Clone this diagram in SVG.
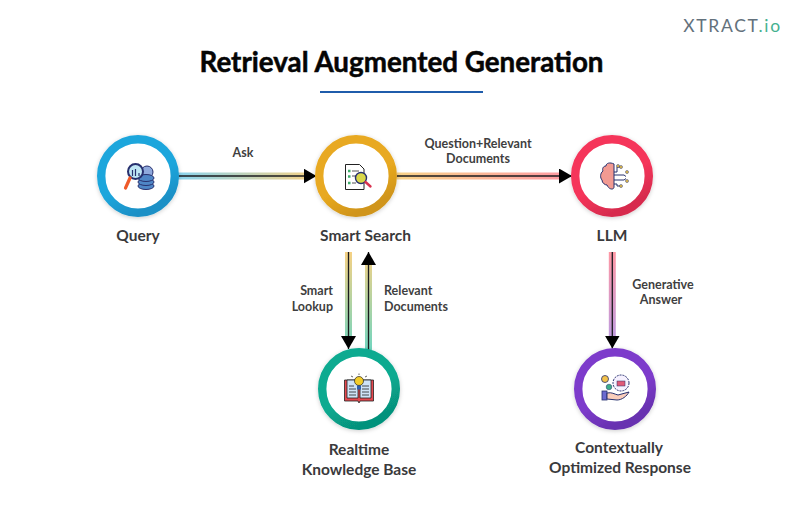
<svg xmlns="http://www.w3.org/2000/svg" width="803" height="505" viewBox="0 0 803 505">
<style>
text{font-family:"Lato","Noto Sans","Liberation Sans",sans-serif;text-anchor:middle}
.title{font-size:28px;font-weight:700;fill:#050505;stroke:#050505;stroke-width:.5px}
.label{font-size:15.500px;font-weight:700;fill:#3a3a3c}
.edge{font-size:12.500px;font-weight:700;fill:#3f3f41}
.ring{fill:#fff;stroke-width:8.400;filter:url(#sh)}
.band{stroke-width:7;fill:none}
.wire{stroke:#1b1b1f;stroke-width:1.300;fill:none}
.out{stroke:#27306e;stroke-width:1;stroke-linejoin:round}
</style>
<defs>
<filter id="sh" x="-20%" y="-20%" width="140%" height="140%"><feDropShadow dx="0" dy="1" stdDeviation="2" flood-color="#000" flood-opacity=".2"/></filter>
<linearGradient id="g1" gradientUnits="userSpaceOnUse" x1="178" y1="0" x2="315" y2="0"><stop offset="0" stop-color="#8bd4ee"/><stop offset="1" stop-color="#f6d184"/></linearGradient>
<linearGradient id="g2" gradientUnits="userSpaceOnUse" x1="397" y1="0" x2="572" y2="0"><stop offset="0" stop-color="#f8d389"/><stop offset="1" stop-color="#ff98a4"/></linearGradient>
<linearGradient id="g3" gradientUnits="userSpaceOnUse" x1="0" y1="252" x2="0" y2="348"><stop offset="0" stop-color="#f6d184"/><stop offset="1" stop-color="#74d5be"/></linearGradient>
<linearGradient id="g4" gradientUnits="userSpaceOnUse" x1="0" y1="252" x2="0" y2="348"><stop offset="0" stop-color="#ff98a4"/><stop offset="1" stop-color="#b79be6"/></linearGradient>
<linearGradient id="r1" x1="0" y1="0" x2=".5" y2="1"><stop offset=".65" stop-color="#1fa6dc"/><stop offset="1" stop-color="#1a90c6"/></linearGradient>
<linearGradient id="r2" x1="0" y1="0" x2=".5" y2="1"><stop offset=".65" stop-color="#e8a920"/><stop offset="1" stop-color="#d0951a"/></linearGradient>
<linearGradient id="r3" x1="0" y1="0" x2=".5" y2="1"><stop offset=".65" stop-color="#f5345a"/><stop offset="1" stop-color="#d72c4e"/></linearGradient>
<linearGradient id="r4" x1="0" y1="0" x2=".5" y2="1"><stop offset=".65" stop-color="#08aa90"/><stop offset="1" stop-color="#06927c"/></linearGradient>
<linearGradient id="r5" x1="0" y1="0" x2=".5" y2="1"><stop offset=".65" stop-color="#7d3bcb"/><stop offset="1" stop-color="#6831b0"/></linearGradient>
<marker id="arr" markerUnits="userSpaceOnUse" markerWidth="14" markerHeight="15" refX="13" refY="7.500" orient="auto"><path d="M0 0L13 7.500L0 15Z" fill="#000"/></marker>
</defs>
<rect width="803" height="505" fill="#fff"/>
<text id="title" class="title" x="401.500" y="72" textLength="404" lengthAdjust="spacingAndGlyphs">Retrieval Augmented Generation</text>
<rect x="320" y="91" width="163" height="2" fill="#1f5cab"/>
<g id="logo"><text x="732.500" y="32" style="font-size:17.500px;letter-spacing:1.700px;font-weight:400;fill:#63717c">XTRACT<tspan fill="#45b18f">.io</tspan></text></g>
<g id="connectors">
<line class="band" x1="178" y1="176" x2="308" y2="176" stroke="url(#g1)"/>
<line class="wire" x1="178" y1="176" x2="316.500" y2="176" marker-end="url(#arr)"/>
<line class="band" x1="397" y1="176" x2="565" y2="176" stroke="url(#g2)"/>
<line class="wire" x1="397" y1="176" x2="572" y2="176" marker-end="url(#arr)"/>
<line class="band" x1="348.500" y1="252" x2="348.500" y2="340" stroke="url(#g3)"/>
<line class="wire" x1="348.500" y1="252" x2="348.500" y2="349" marker-end="url(#arr)"/>
<line class="band" x1="368.500" y1="350" x2="368.500" y2="262" stroke="url(#g3)"/>
<line class="wire" x1="368.500" y1="350" x2="368.500" y2="252" marker-end="url(#arr)"/>
<line class="band" x1="612.300" y1="252" x2="612.300" y2="340" stroke="url(#g4)"/>
<line class="wire" x1="612.300" y1="252" x2="612.300" y2="348.500" marker-end="url(#arr)"/>
</g>
<g id="edge-labels">
<text class="edge" x="243" y="157">Ask</text>
<text class="edge" x="478" y="148">Question+Relevant</text>
<text class="edge" x="478" y="163">Documents</text>
<text class="edge" x="333" y="295" style="text-anchor:end">Smart</text>
<text class="edge" x="333" y="311" style="text-anchor:end">Lookup</text>
<text class="edge" x="384" y="295" style="text-anchor:start">Relevant</text>
<text class="edge" x="384" y="311" style="text-anchor:start">Documents</text>
<text class="edge" x="663" y="289">Generative</text>
<text class="edge" x="661" y="304">Answer</text>
</g>
<g id="query">
<circle class="ring" cx="138" cy="176" r="36.800" stroke="url(#r1)"/>
<circle cx="147" cy="172" r="6" fill="#8fa9dc" class="out"/>
<ellipse cx="146" cy="186" rx="8" ry="3.500" fill="#4f86c6" class="out"/>
<ellipse cx="146" cy="182" rx="8" ry="3.500" fill="#4f86c6" class="out"/>
<ellipse cx="146" cy="178" rx="8" ry="3.500" fill="#4f86c6" class="out"/>
<circle cx="135.500" cy="171.500" r="7.500" fill="#bfe6f5" stroke="#27306e" stroke-width="2"/>
<path d="M132.500 176v-6M135.500 176v-7M139 176v-3" stroke="#27306e" stroke-width="1.200"/>
<line x1="130" y1="178" x2="125.500" y2="188" stroke="#ef5a2a" stroke-width="3.200" stroke-linecap="round"/>
<text class="label" x="138" y="241">Query</text>
</g>
<g id="smart-search">
<circle class="ring" cx="356" cy="176" r="36.800" stroke="url(#r2)"/>
<path d="M345.500 164.500h14l4.500 4.500v20.500h-18.500z" fill="#fff" stroke="#222" stroke-width="1"/>
<path d="M348 171h2.500M348 176.500h2.500M348 183h2.500" stroke="#3fae6b" stroke-width="2.500"/>
<path d="M352 171h7M352 176h4M352 183h4" stroke="#555"/>
<circle cx="361" cy="178" r="5.500" fill="#d9d84a" stroke="#27306e" stroke-width="1.400"/>
<line x1="365.500" y1="182" x2="370.500" y2="186.500" stroke="#d9324f" stroke-width="2.400" stroke-linecap="round"/>
<text class="label" x="365.500" y="241">Smart Search</text>
</g>
<g id="llm">
<circle class="ring" cx="612" cy="176" r="36.800" stroke="url(#r3)"/>
<path class="out" d="M614 164c-4-2-8-1-8 2c-3 0-4 3-3 5c-3 2-3 7-1 9c0 3 3 5 5 5c2 5 7 5 7 2z" fill="#f29a92"/>
<path d="M614 172h3v-5h3M614 175h10l2 1.500M614 180h10l2-1.500M614 184h3v2h3" stroke="#27306e" fill="none"/>
<circle cx="621" cy="167" r="1.500" fill="#e9c24a" stroke="#27306e" stroke-width=".5"/><circle cx="618" cy="166" r="1.500" fill="#e9c24a" stroke="#27306e" stroke-width=".5"/><circle cx="627" cy="172" r="1.500" fill="#e9c24a" stroke="#27306e" stroke-width=".5"/><circle cx="627" cy="181" r="1.500" fill="#e9c24a" stroke="#27306e" stroke-width=".5"/><circle cx="621" cy="186" r="1.500" fill="#e9c24a" stroke="#27306e" stroke-width=".5"/>
<text class="label" x="612" y="241">LLM</text>
</g>
<g id="knowledge-base">
<circle class="ring" cx="359" cy="389" r="36.800" stroke="url(#r4)"/>
<path d="M344.500 380h29v21h-13.500l-1 2-1-2h-13.500z" fill="#e4484f" stroke="#222" stroke-width=".8"/>
<path d="M347 380h11v18h-11zM360 380h11v18h-11z" fill="#cfe3f7" stroke="#222" stroke-width=".8"/>
<path d="M349 386h5M349 389h7M349 392h7M349 395h7M362 386h7M362 389h7M362 392h7M362 395h7" stroke="#222" stroke-width=".8"/>
<circle cx="359" cy="381" r="4.500" fill="#f3cc2a" stroke="#222" stroke-width=".7"/>
<rect x="357" y="385.500" width="4" height="4" fill="#2f5fa8"/>
<path d="M353 377l-2-1M365 377l2-1M359 375v-1.500" stroke="#222" stroke-width=".7"/>
<text class="label" x="359" y="455">Realtime</text>
<text class="label" x="359" y="475">Knowledge Base</text>
</g>
<g id="response">
<circle class="ring" cx="615" cy="389" r="36.800" stroke="url(#r5)"/>
<circle cx="621" cy="383" r="8" fill="#f6f1ff" stroke="#27306e" stroke-dasharray="2 1"/>
<rect x="617" y="381" width="8" height="5" fill="#e05a78" stroke="#27306e" stroke-width=".5"/>
<circle cx="605" cy="379" r="3.500" fill="#f3c24a" stroke="#27306e" stroke-width=".8"/>
<circle cx="609" cy="387" r="2.800" fill="#3fae8a" stroke="#27306e" stroke-width=".5"/>
<rect x="602" y="391" width="5" height="9" fill="#6b6ad0" stroke="#27306e" stroke-width=".8"/>
<path class="out" d="M607 393c5-1 7 1 11 2l11-3c-2 4-7 8-12 8l-10-1z" fill="#f9cdbb"/>
<text class="label" x="619" y="453">Contextually</text>
<text class="label" x="620" y="473">Optimized Response</text>
</g>
</svg>
